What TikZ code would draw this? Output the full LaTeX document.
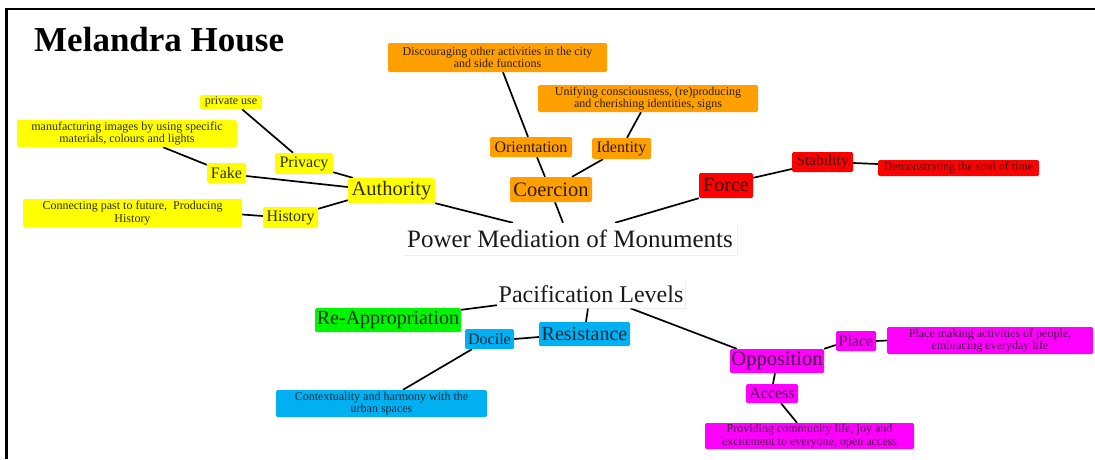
\documentclass[tikz,border=0pt]{standalone}
\usepackage{fontspec}
\setmainfont{Liberation Serif}
\usetikzlibrary{shadows}
\pgfdeclarelayer{bg}
\pgfsetlayers{bg,main}
\definecolor{cyel}{RGB}{255,255,0}
\definecolor{corg}{RGB}{255,160,0}
\definecolor{cred}{RGB}{255,0,0}
\definecolor{cgrn}{RGB}{0,245,0}
\definecolor{cblu}{RGB}{0,176,240}
\definecolor{cmag}{RGB}{255,0,255}
\newcommand{\fsz}[1]{\fontsize{#1}{#1}\selectfont}
\tikzset{
  box/.style={rectangle, rounded corners=1.5pt, inner sep=0pt, align=center},
  ybox/.style={box, fill=cyel, text=cyel!18!black},
  obox/.style={box, fill=corg, text=corg!18!black},
  rbox/.style={box, fill=cred, text=cred!30!black},
  gbox/.style={box, fill=cgrn, text=cgrn!20!black},
  bbox/.style={box, fill=cblu, text=cblu!25!black},
  mbox/.style={box, fill=cmag, text=cmag!28!black},
  wbox/.style={box, rounded corners=0pt, fill=white, text=black!90,
     drop shadow={shadow xshift=1pt, shadow yshift=-1pt, fill=black!12}},
  small/.style={font=\fontsize{12}{12.5}\selectfont},
  mid/.style={font=\fsz{16}},
  big/.style={font=\fsz{20.5}},
  link/.style={draw=black, line width=1.7pt},
}
\begin{document}
\begin{tikzpicture}[x=1pt, y=-1pt]
\useasboundingbox (0,0) rectangle (1095,459);
% frame
\draw[line width=2.2pt] (6,9) -- (1095,9);
\draw[line width=2.6pt] (6.5,8) -- (6.5,459);
% title
\node[anchor=base west, inner sep=0pt, font=\bfseries\fsz{35}] (title) at (34,51) {Melandra House};

% central nodes
\node[wbox, minimum width=334pt, minimum height=32pt, font=\fsz{25}] (power) at (570,239) {Power Mediation of Monuments};
\node[wbox, minimum width=188pt, minimum height=28pt, font=\fsz{24}] (pacif) at (591,294) {Pacification Levels};

% yellow
\node[ybox, big, minimum width=87pt, minimum height=25pt] (auth) at (391.5,190.5) {Authority};
\node[ybox, mid, minimum width=58pt, minimum height=21pt] (privacy) at (304,163.5) {Privacy};
\node[ybox, mid, minimum width=39pt, minimum height=20pt] (fake) at (226.5,173) {Fake};
\node[ybox, mid, minimum width=55pt, minimum height=21pt] (history) at (290.5,217.5) {History};
\node[ybox, small, minimum width=62pt, minimum height=14pt] (privuse) at (231,102) {private use};
\node[ybox, small, minimum width=220pt, minimum height=27pt] (manuf) at (127,133.5) {manufacturing images by using specific\\materials, colours and lights};
\node[ybox, small, minimum width=219pt, minimum height=28pt] (connect) at (132.5,213) {Connecting past to future,\ \ Producing\\History};

% orange
\node[obox, big, minimum width=82pt, minimum height=25pt] (coer) at (551,189.5) {Coercion};
\node[obox, mid, minimum width=82pt, minimum height=20pt] (orient) at (531,147) {Orientation};
\node[obox, mid, minimum width=59pt, minimum height=21pt] (ident) at (621.5,148.5) {Identity};
\node[obox, small, minimum width=219pt, minimum height=29pt] (discour) at (497.5,57.5) {Discouraging other activities in the city\\and side functions};
\node[obox, small, minimum width=220pt, minimum height=27pt] (unify) at (648,98.5) {Unifying consciousness, (re)producing\\and cherishing identities, signs};

% red
\node[rbox, font=\fsz{20}, minimum width=54pt, minimum height=25pt] (force) at (726,185.5) {Force};
\node[rbox, font=\fsz{15.5}, minimum width=61pt, minimum height=20pt] (stab) at (822.5,162) {Stability};
\node[rbox, small, minimum width=161pt, minimum height=16pt] (demon) at (958.5,168) {Demonstrating the soul of time};

% green / blue
\node[gbox, font=\fsz{20}, minimum width=146pt, minimum height=24pt] (reapp) at (388,320) {Re-Appropriation};
\node[bbox, font=\fsz{20}, minimum width=91pt, minimum height=24pt] (resist) at (584.5,334) {Resistance};
\node[bbox, mid, minimum width=49pt, minimum height=20pt] (docile) at (489.5,339) {Docile};
\node[bbox, small, minimum width=211pt, minimum height=27pt] (context) at (381.5,403.5) {Contextuality and harmony with the\\urban spaces};

% magenta
\node[mbox, big, minimum width=94pt, minimum height=24pt] (oppos) at (777,361) {Opposition};
\node[mbox, mid, minimum width=40pt, minimum height=20pt] (place) at (856,341) {Place};
\node[mbox, mid, minimum width=52pt, minimum height=19pt] (access) at (772,393.5) {Access};
\node[mbox, small, minimum width=206pt, minimum height=27pt] (placemk) at (990,340.5) {Place making activities of people,\\embracing everyday life};
\node[mbox, small, minimum width=209pt, minimum height=26pt] (provid) at (809.5,436) {Providing community life, joy and\\excitement to everyone, open access};

\begin{pgfonlayer}{bg}
% power branches
\draw[link] (auth.south east) -- ([xshift=-57pt]power.north);
\draw[link] ([xshift=4pt]coer.south) -- ([xshift=-7pt]power.north);
\draw[link] (force.south west) -- ([xshift=45pt]power.north);
% coercion
\draw[link] ([xshift=-6pt]coer.north) -- ([xshift=6pt]orient.south);
\draw[link] ([xshift=-3pt]orient.north) -- ([xshift=5.5pt]discour.south);
\draw[link] ([xshift=21pt]coer.north) -- ([xshift=-18.5pt]ident.south);
\draw[link] ([xshift=5.5pt]ident.north) -- ([xshift=-7pt]unify.south);
% authority
\draw[link] ([xshift=-11pt]privacy.north) -- ([xshift=11pt]privuse.south);
\draw[link] ([yshift=2pt]privacy.south east) -- ([xshift=5pt]auth.north west);
\draw[link] ([yshift=-2pt]fake.north west) -- ([xshift=36pt]manuf.south);
\draw[link] ([yshift=-3pt]fake.east) -- ([yshift=3.5pt]auth.west);
\draw[link] ([yshift=-2pt]history.north east) -- ([yshift=3pt]auth.south west);
\draw[link] ([yshift=1.5pt]history.west) -- ([yshift=-1.5pt]connect.east);
% force
\draw[link] ([yshift=-5pt]force.north east) -- ([yshift=-7pt]stab.west);
\draw[link] ([yshift=-1pt]stab.east) -- ([yshift=4pt]demon.west);
% pacification
\draw[link] ([yshift=-2pt]reapp.north east) -- ([yshift=3pt]pacif.south west);
\draw[link] ([xshift=1.5pt]resist.north) -- ([xshift=-3pt]pacif.south);
\draw[link] (docile.east) -- ([yshift=-3pt]resist.west);
\draw[link] ([xshift=-17.5pt]docile.south) -- ([xshift=21.5pt]context.north);
\draw[link] ([xshift=-55pt]pacif.south east) -- ([xshift=7pt]oppos.north west);
\draw[link] (oppos.north east) -- ([yshift=-4pt]place.west);
\draw[link] (place.east) -- (placemk.west);
\draw[link] ([xshift=-2pt]oppos.south) -- ([xshift=1pt]access.north);
\draw[link] ([xshift=9pt]access.south) -- ([xshift=-12.5pt]provid.north);
\end{pgfonlayer}
\end{tikzpicture}
\end{document}
